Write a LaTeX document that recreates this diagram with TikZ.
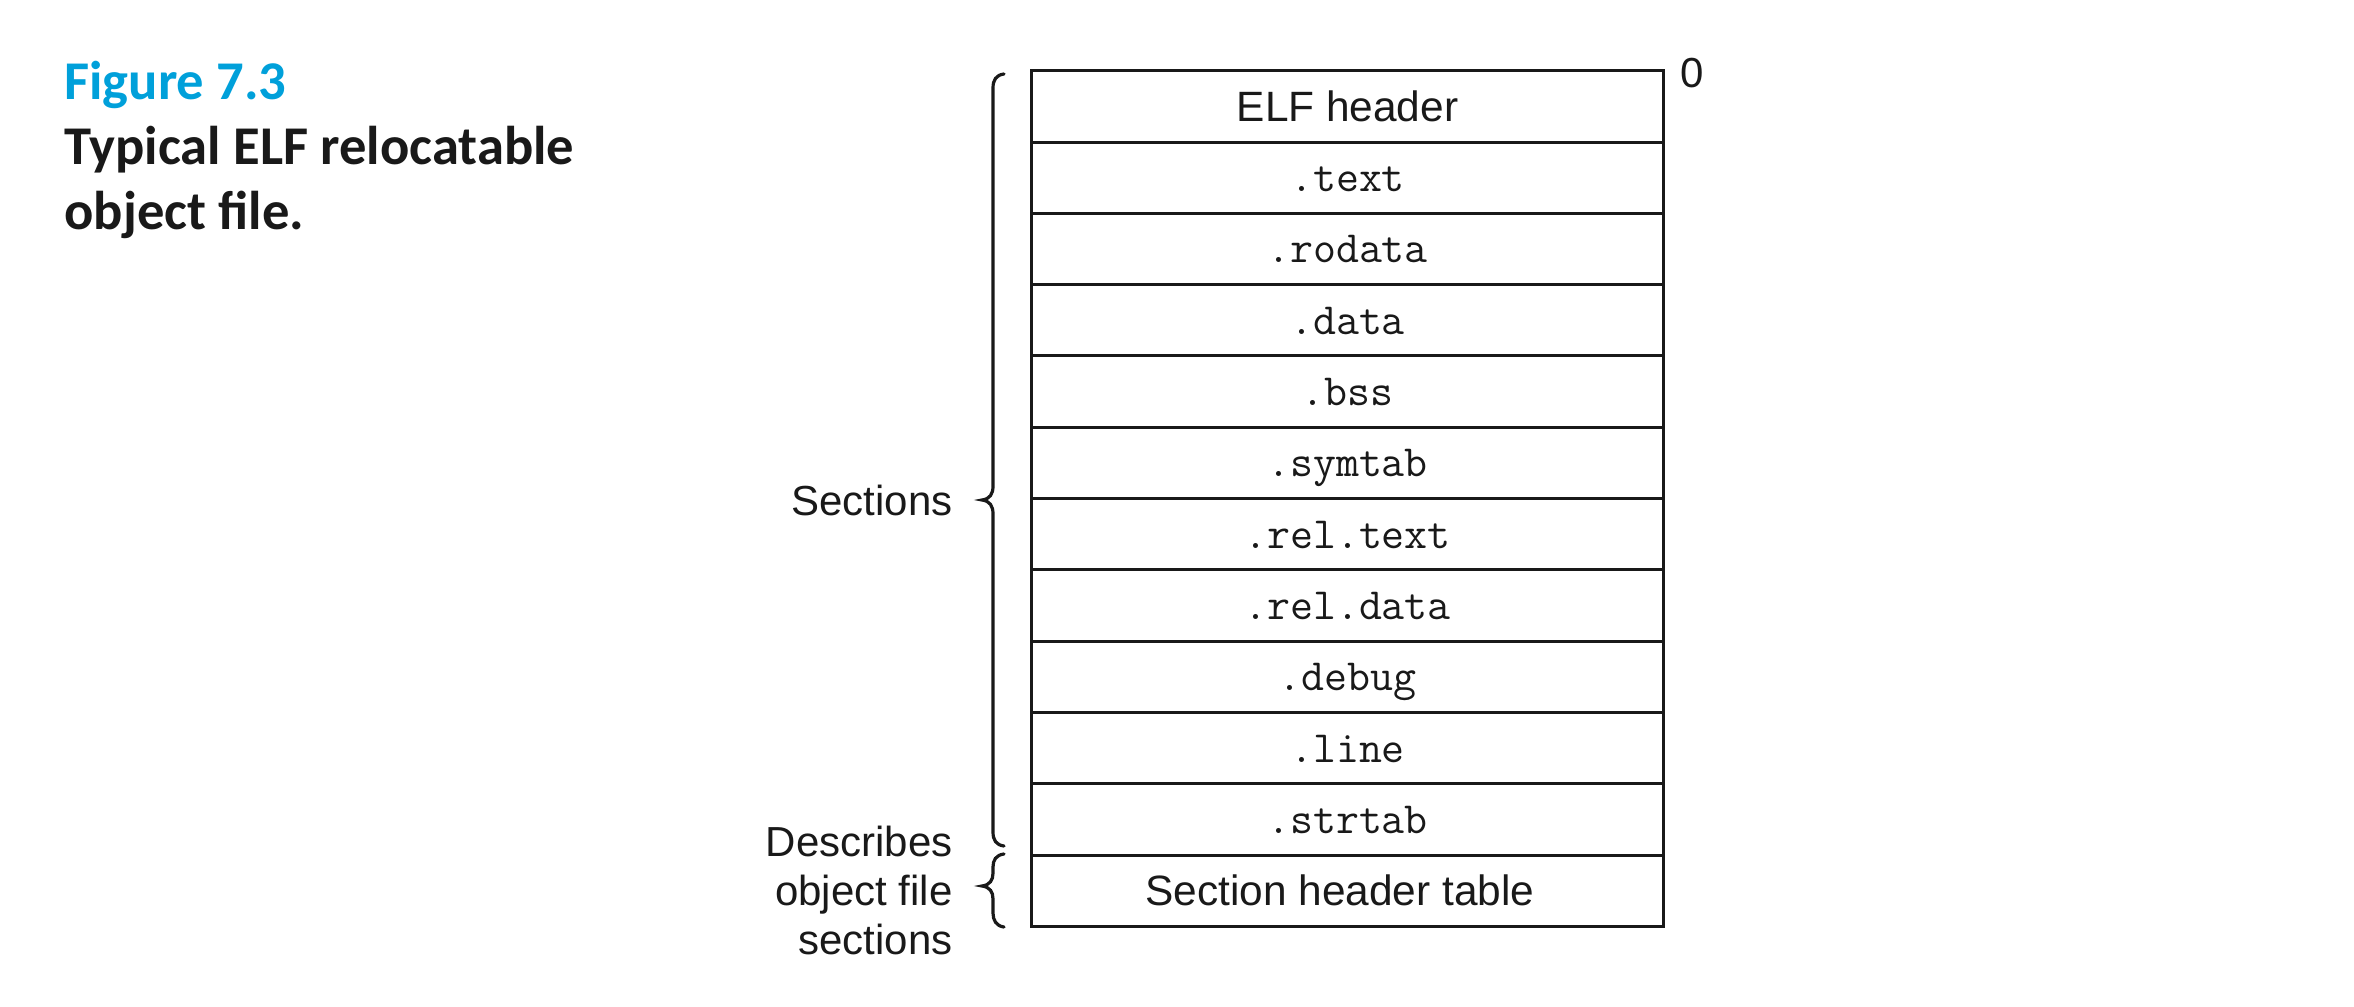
\documentclass[tikz,border=0pt]{standalone}
\usepackage{fontspec}
\setmainfont{Liberation Sans}
\newfontfamily\capfont{Carlito}
\setmonofont{Latin Modern Mono}
\definecolor{figblue}{RGB}{0,160,218}
\definecolor{ink}{RGB}{25,25,25}
\tikzset{
  rowbox/.style={draw=ink, line width=1.5pt, minimum width=316pt, minimum height=35.65pt,
    inner sep=0pt, text height=15pt, text depth=0pt, text=ink},
  sansrow/.style={rowbox, font=\fontsize{21.2}{24}\selectfont},
  monorow/.style={rowbox, text height=14pt, font=\ttfamily\fontsize{22.3}{24}\selectfont},
  sidelabel/.style={font=\fontsize{21}{24.5}\selectfont, text=ink, align=right, inner sep=0pt},
  bracepath/.style={draw=ink, line width=1.6pt, line cap=round},
  captext/.style={anchor=base west, inner sep=0pt, align=left, font=\capfont\bfseries\fontsize{27.3}{32.5}\selectfont},
}
\begin{document}
\begin{tikzpicture}[x=0.5pt,y=-0.5pt]
\useasboundingbox (0,0) rectangle (2354,1006);
% caption
\node[captext, text=figblue] (fig) at (64,99) {Figure 7.3};
\node[captext, text=ink] (cap) at (64,229) {Typical ELF relocatable\\object file.};
% rows
\node[sansrow] (r0)  at (1347.5,106.35) {ELF header};
\node[monorow] (r1)  at (1347.5,177.65) {.text};
\node[monorow] (r2)  at (1347.5,248.95) {.rodata};
\node[monorow] (r3)  at (1347.5,320.25) {.data};
\node[monorow] (r4)  at (1347.5,391.55) {.bss};
\node[monorow] (r5)  at (1347.5,462.85) {.symtab};
\node[monorow] (r6)  at (1347.5,534.15) {.rel.text};
\node[monorow] (r7)  at (1347.5,605.45) {.rel.data};
\node[monorow] (r8)  at (1347.5,676.75) {.debug};
\node[monorow] (r9)  at (1347.5,748.05) {.line};
\node[monorow] (r10) at (1347.5,819.35) {.strtab};
\node[sansrow] (r11) at (1347.5,890.65) {\hspace*{-7.5pt}Section header table};
% offset label
\node[anchor=center, inner sep=0pt, text=ink, font=\fontsize{21}{24}\selectfont] (zero) at (1692,73) {0};
% braces
\coordinate (b1top) at (1004,74);
\coordinate (b1tip) at (982,500);
\coordinate (b1bot) at (1004,846);
\draw[bracepath] (b1top) .. controls (996,75) and (993,80) .. (993,88) -- (993,486)
  .. controls (993,494) and (990,499) .. (b1tip) .. controls (990,501) and (993,506) .. (993,514)
  -- (993,832) .. controls (993,840) and (996,845) .. (b1bot);
\coordinate (b2top) at (1004,854);
\coordinate (b2tip) at (982,886);
\coordinate (b2bot) at (1004,927);
\draw[bracepath] (b2top) .. controls (996,855) and (993,860) .. (993,867) -- (993,873)
  .. controls (993,880) and (990,885) .. (b2tip) .. controls (990,887) and (993,892) .. (993,899)
  -- (993,913) .. controls (993,920) and (996,926) .. (b2bot);
% side labels
\node[sidelabel, anchor=base east] (sec) at (953,515) {Sections};
\node[sidelabel, anchor=base east] (desc) at (953,954) {Describes\\object file\\sections};
\end{tikzpicture}
\end{document}
